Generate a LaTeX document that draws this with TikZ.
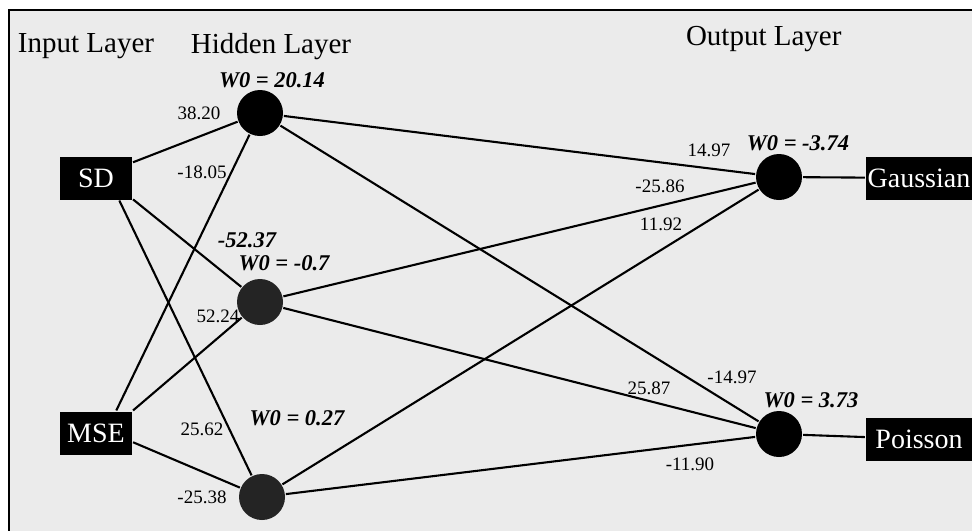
\documentclass[tikz,border=0pt]{standalone}
\usepackage{fontspec}
\setmainfont{Liberation Serif}
\usepackage{tikz}
\usetikzlibrary{arrows,positioning}
\definecolor{panel}{HTML}{EBEBEB}
\tikzset{
    %Define style for the input and output boxes
    termbox/.style={
           rectangle,
           fill=black,
           text=white,
           minimum height=43pt,
           inner sep=0pt,
           font=\fontsize{28}{30}\selectfont,
           text centered},
    %Define style for the neurons
    neuron/.style={
           circle,
           fill=black,
           minimum size=46pt,
           inner sep=0pt},
    %Define style for the layer titles
    layer/.style={
           anchor=base,
           inner sep=0pt,
           font=\fontsize{29}{31}\selectfont},
    %Define style for the weights
    weight/.style={
           anchor=base,
           inner sep=0pt,
           font=\fontsize{19}{21}\selectfont},
    %Define style for the bias terms
    bias/.style={
           anchor=base,
           inner sep=0pt,
           font=\fontsize{22.5}{24}\selectfont\bfseries\itshape}
}

\begin{document}
\begin{tikzpicture}[x=1pt,y=-1pt,line width=2.1pt,-]
\useasboundingbox (0,0) rectangle (972,531);
% panel and frame
\fill[panel] (9,10) rectangle (972,531);
\draw[line width=2pt] (8,10) -- (972,10);
\draw[line width=2pt] (9,10) -- (9,531);

% layers
\node[termbox, minimum width=72pt](1) at (96,178){SD};
\node[termbox, minimum width=72pt](2) at (96,433){MSE};
\node[neuron](3) at (260,113){};
\node[neuron, fill=black!86](4) at (260,302){};
\node[neuron, fill=black!86](5) at (262,497){};
\node[neuron](6) at (779,177){};
\node[neuron](7) at (779,434){};
\node[termbox, minimum width=106pt](8) at (919,178){Gaussian};
\node[termbox, minimum width=106pt](9) at (919,439){Poisson};
\path[]
	(1.23) edge (3)
	(1.-30) edge (4)
	(1.-44) edge (5)
	(2.48) edge (3)
	(2.north east) edge (4)
	(2.-14) edge (5)
	(3) edge (6)
	(3) edge (7)
	(4) edge (6)
	(4) edge (7)
	(5) edge (6)
	(5) edge (7)
	(6) edge (8)
	(7) edge (9);

% titles
\node[layer](t1) at (86,52){Input Layer};
\node[layer](t2) at (271,53){Hidden Layer};
\node[layer, anchor=base west](t3) at (685,45){Output Layer};

% weights and biases
\node[bias](b1) at (272,87){W0 = 20.14};
\node[bias](b2) at (284,270){W0 = -0.7};
\node[bias](b3) at (297,425){W0 = 0.27};
\node[bias](b4) at (798,150){W0 = -3.74};
\node[bias](b5) at (811,407){W0 = 3.73};
\node[bias](w0) at (247,247){-52.37};
\node[weight](w1) at (199,119){38.20};
\node[weight](w2) at (202,178){-18.05};
\node[weight](w3) at (218,322){52.24};
\node[weight](w4) at (202,435){25.62};
\node[weight](w5) at (202,503){-25.38};
\node[weight](w6) at (709,156){14.97};
\node[weight](w7) at (660,192){-25.86};
\node[weight](w8) at (661,230){11.92};
\node[weight](w9) at (732,383){-14.97};
\node[weight](w10) at (649,394){25.87};
\node[weight](w11) at (690,470){-11.90};
\end{tikzpicture}
\end{document}
